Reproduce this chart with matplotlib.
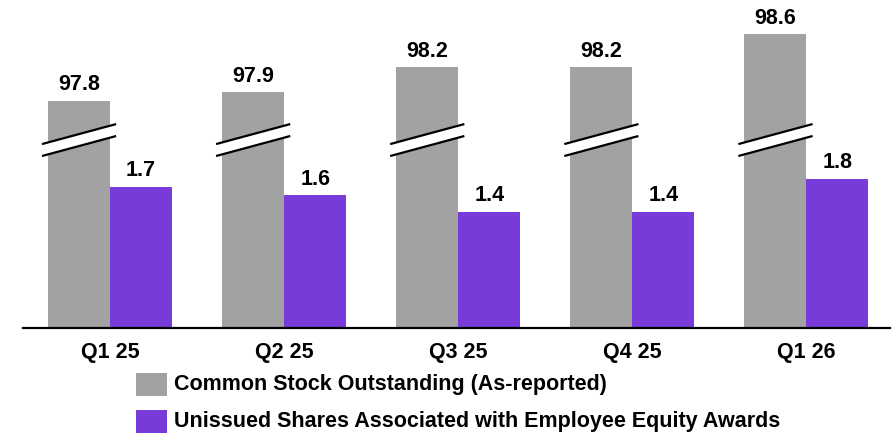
import matplotlib.pyplot as plt
from matplotlib.patches import Rectangle, Polygon

# quarter labels and share counts (millions)
quarters = ["Q1 25", "Q2 25", "Q3 25", "Q4 25", "Q1 26"]
common_stock = [97.8, 97.9, 98.2, 98.2, 98.6]
unissued_awards = [1.7, 1.6, 1.4, 1.4, 1.8]
series_names = ["Common Stock Outstanding (As-reported)",
                "Unissued Shares Associated with Employee Equity Awards"]

GRAY = "#a2a2a2"
PURPLE = "#783ad9"
AXIS_BREAK = 95.06  # gray bars start here, axis is broken

plt.rcParams["font.family"] = ["Liberation Sans", "DejaVu Sans"]
plt.rcParams["font.weight"] = "bold"

fig = plt.figure(figsize=(8.92, 4.36), dpi=100)
ax = fig.add_axes([0.0258, 0.2477, 0.972, 0.748])

x = list(range(len(quarters)))
w = 0.356
gray_x = [i - w / 2 for i in x]
purple_x = [i + w / 2 for i in x]
gray_h = [v - AXIS_BREAK for v in common_stock]

ax.bar(gray_x, gray_h, width=w, color=GRAY)
ax.bar(purple_x, unissued_awards, width=w, color=PURPLE)

# value labels
for xi, h, v in zip(gray_x, gray_h, common_stock):
    ax.annotate(f"{v:.1f}", (xi, h), xytext=(0, 4), textcoords="offset points",
                ha="center", va="bottom", fontsize=15.5, fontweight="bold")
for xi, v in zip(purple_x, unissued_awards):
    ax.annotate(f"{v:.1f}", (xi, v), xytext=(0, 4), textcoords="offset points",
                ha="center", va="bottom", fontsize=15.5, fontweight="bold")

# break marks across the gray bars
half = 0.213
rise = 0.241
y_top, y_bot = 2.337, 2.193
for xi in gray_x:
    x0, x1 = xi - half, xi + half
    band = Polygon([(x0, y_bot - rise / 2), (x1, y_bot + rise / 2),
                    (x1, y_top + rise / 2), (x0, y_top - rise / 2)],
                   closed=True, facecolor="white", edgecolor="none", zorder=3)
    ax.add_patch(band)
    for yc in (y_top, y_bot):
        ax.plot([x0, x1], [yc - rise / 2, yc + rise / 2], color="black",
                lw=1.6, zorder=4, solid_capstyle="butt")

ax.set_xlim(-0.5, 4.48)
ax.set_ylim(0, 3.93)
for side in ("top", "right", "left"):
    ax.spines[side].set_visible(False)
ax.spines["bottom"].set_linewidth(1.6)
ax.set_yticks([])
ax.set_xticks(x)
ax.set_xticklabels(quarters, fontsize=15.5, fontweight="bold")
ax.tick_params(axis="x", length=0, pad=10)

# legend drawn by hand below the axis
fig_w, fig_h = 892, 436
for i, (name, col) in enumerate(zip(series_names, [GRAY, PURPLE])):
    top_px = 373 + i * 37
    fig.patches.append(Rectangle((136 / fig_w, 1 - (top_px + 23) / fig_h),
                                 31 / fig_w, 23 / fig_h, facecolor=col,
                                 edgecolor="none", transform=fig.transFigure))
    fig.text(174 / fig_w, 1 - (top_px + 11.5) / fig_h, name, fontsize=15.5,
             fontweight="bold", va="center", ha="left")

fig.savefig("out.png", dpi=100)
